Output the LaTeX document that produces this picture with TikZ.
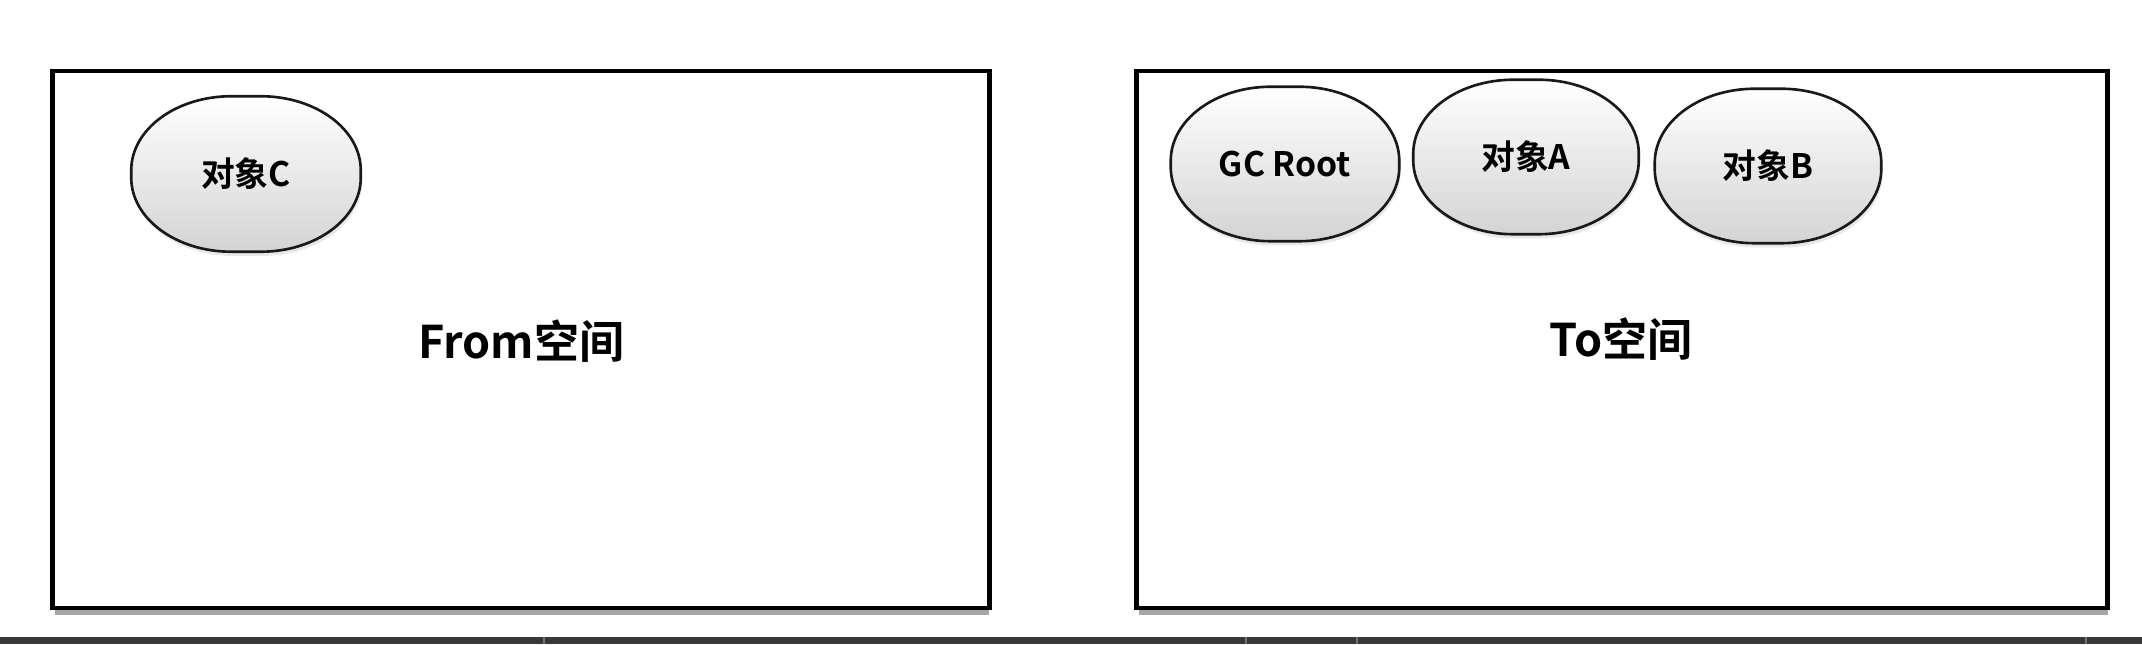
\documentclass[tikz,border=0pt]{standalone}
\usepackage{fontspec}
\setmainfont{Noto Sans CJK SC}[BoldFont={Noto Sans CJK SC Bold}]
\usetikzlibrary{calc,shadows}
\pgfdeclarelayer{bglayer}
\pgfdeclarelayer{shapes}
\pgfsetlayers{bglayer,shapes,main}
\tikzset{
  space/.style={draw=black, line width=1.3pt},
  spaceshadow/.style={draw=black!35, line width=1.6pt},
  objtext/.style={minimum width=2.28cm, minimum height=1.54cm, inner sep=0pt,
    font=\bfseries\fontsize{9.6pt}{11pt}\selectfont},
  objline/.style={draw=black!90, line width=0.75pt, top color=white, bottom color=black!17,
    drop shadow={opacity=0.18, shadow xshift=0.4pt, shadow yshift=-1.2pt}},
  biglabel/.style={font=\bfseries\fontsize{12.8pt}{15pt}\selectfont},
  barline/.style={draw=black!55, line width=0.5pt}
}
\newcommand\objshape[1]{%
  \begin{pgfonlayer}{shapes}
  \path[objline] ($(#1.north west)+(1.0cm,0)$) -- ($(#1.north east)+(-1.0cm,0)$)
    arc[start angle=90, end angle=0, x radius=1.0cm, y radius=0.74cm]
    -- ($(#1.south east)+(0,0.74cm)$)
    arc[start angle=0, end angle=-90, x radius=1.0cm, y radius=0.74cm]
    -- ($(#1.south west)+(1.0cm,0)$)
    arc[start angle=270, end angle=180, x radius=1.0cm, y radius=0.74cm]
    -- ($(#1.north west)+(0,-0.74cm)$)
    arc[start angle=180, end angle=90, x radius=1.0cm, y radius=0.74cm] -- cycle;
  \end{pgfonlayer}}
\begin{document}
\begin{tikzpicture}[x=0.01cm, y=-0.01cm]
\begin{pgfonlayer}{bglayer}
\useasboundingbox[fill=white] (0,0) rectangle (2142,644);
\draw[spaceshadow] (55,612) -- (989,612);
\draw[spaceshadow] (1139,612) -- (2108,612);
\end{pgfonlayer}
% space boxes
\node[space, minimum width=9.36cm, minimum height=5.37cm, inner sep=0pt] (from) at (521,339.5) {};
\node[space, minimum width=9.70cm, minimum height=5.37cm, inner sep=0pt] (to) at (1622,339.5) {};
% labels
\node[biglabel] (fromlabel) at (521,341) {From空间};
\node[biglabel] (tolabel) at (1621,339) {To空间};
% objects
\node[objtext] (c) at (246,174) {对象C};
\objshape{c}
\node[objtext, minimum width=2.27cm, minimum height=1.53cm] (gc) at (1285,164) {GC Root};
\objshape{gc}
\node[objtext, minimum width=2.24cm, minimum height=1.53cm] (a) at (1526,157) {对象A};
\objshape{a}
\node[objtext, minimum width=2.25cm, minimum height=1.53cm] (b) at (1768,166) {对象B};
\objshape{b}
% bottom bar
\fill[black!78] (0,637) rectangle (2142,644);
\draw[barline] (544,637) -- (544,644);
\draw[barline] (1246,637) -- (1246,644);
\draw[barline] (1357,637) -- (1357,644);
\draw[barline] (2086,637) -- (2086,644);
\end{tikzpicture}
\end{document}
